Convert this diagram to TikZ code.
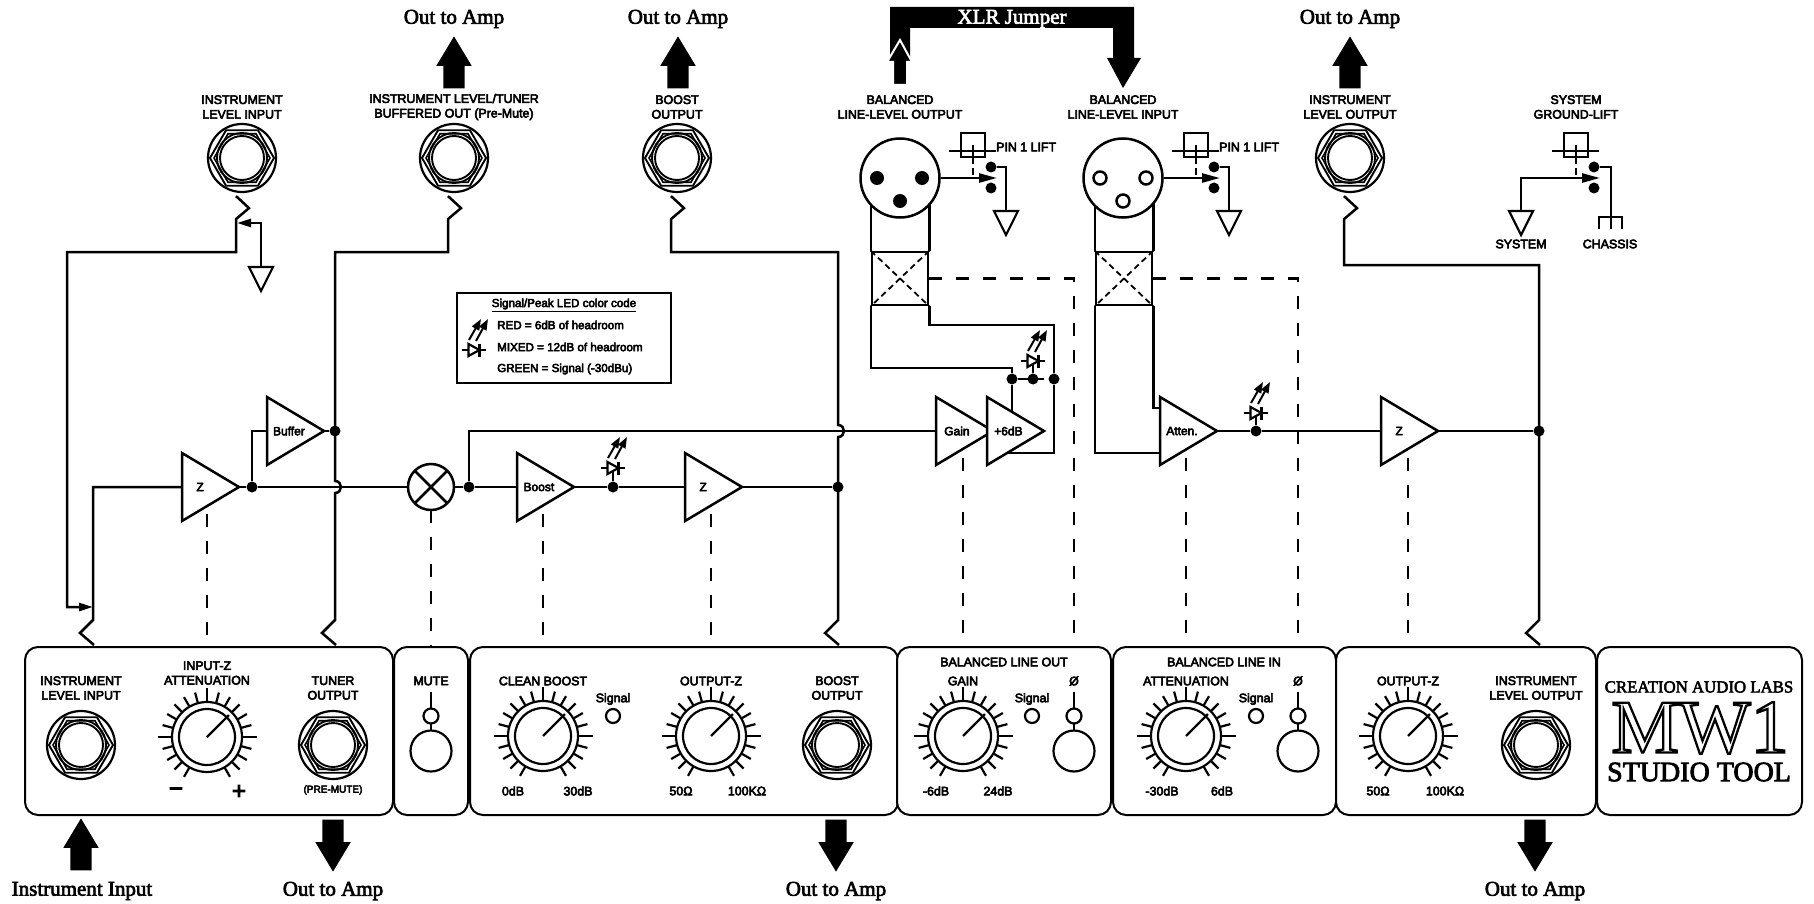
\documentclass[tikz,border=0pt]{standalone}
\usepackage{fontspec}
\usepackage{tikz}
\usetikzlibrary{arrows.meta, shapes.geometric, shapes.arrows, backgrounds, calc}
\setmainfont{Liberation Serif}
\newfontfamily\tagfont[FakeBold=4.5]{Liberation Sans}
\newfontfamily\bigfont[FakeBold=3]{Liberation Serif}
\newfontfamily\logofont[FakeBold=3]{Liberation Serif}
\newfontfamily\outlinefont[FakeBold=3]{Liberation Serif}
\tikzset{
    wire/.style={line width=2.5pt, line join=miter},
    control/.style={line width=2.5pt, dash pattern=on 13pt off 14pt},
    contact/.style={wire, -{Triangle[length=14pt, width=8pt]}},
    swingarm/.style={wire, -{Triangle[length=18pt, width=9pt]}},
    zigtop/.style={insert path={-- ++(13,12) -- ++(-13,11)}},
    zigbottom/.style={insert path={-- ++(-13,13) -- ++(14,12)}},
    jack/.pic={
        \draw[line width=1.9pt] (0:32) -- (60:32) -- (120:32) -- (180:32) -- (240:32) -- (300:32) -- cycle;
        \draw[line width=1.6pt] (0:28) -- (60:28) -- (120:28) -- (180:28) -- (240:28) -- (300:28) -- cycle;
        \draw[line width=1.9pt] (0,0) circle (25);
        \draw[line width=1.9pt] (0,0) circle (22);
    },
    knob/.pic={
        \foreach \a in {-240,-225,...,60} {
            \draw[line width=2.2pt] (\a:35) -- (\a:46);
        }
        \foreach \a in {-180,-90,0} {
            \draw[line width=2.2pt] (\a:35) -- (\a:49.5);
        }
        \draw[line width=2.2pt] (0,0) circle (28);
        \draw[line width=2.2pt] (0,0) -- (-45:31);
    },
    led/.pic={
        \draw[line width=2.2pt] (-12,0) -- (12,0);
        \draw[line width=2.2pt, fill=white] (-5.5,-6) -- (5.5,0) -- (-5.5,6) -- cycle;
        \draw[line width=2.2pt] (5.5,-6.5) -- (5.5,6.5);
        \draw[line width=2pt, -{Triangle[length=11pt, width=8pt]}] (-5,-10) -- (7,-31);
        \draw[line width=2pt, -{Triangle[length=11pt, width=8pt]}] (2,-9) -- (14,-31);
    },
    lift/.pic={
        \draw[line width=2.2pt] (-12,-12) rectangle (12,12);
        \draw[line width=2.2pt] (-24,6) -- (23,6);
        \draw[line width=2.2pt] (0,0) -- (0,12);
        \draw[line width=2.2pt, dash pattern=on 7pt off 4pt] (0,12) -- (0,33);
        \node[contactdot] (-up) at (18,22) {};
        \node[contactdot] (-down) at (18,43) {};
        \coordinate (-arm) at (24,33);
    },
    toggle/.pic={
        \draw[wire] (0,-24) -- (0,34);
        \node[switchbat] at (0,0) {};
        \node[switchbody] at (0,35) {};
    },
    contactdot/.style={circle, fill=black, inner sep=0pt, minimum size=11pt},
    switchbat/.style={circle, draw, fill=white, line width=2.2pt, inner sep=0pt, minimum size=15pt},
    switchbody/.style={circle, draw, fill=white, line width=2.2pt, inner sep=0pt, minimum size=41pt},
}

\begin{document}
\begin{tikzpicture}[
        x=1pt, y=-1pt,
        amp/.style={
            isosceles triangle, isosceles triangle stretches, draw, fill=white,
            line width=2.5pt, inner sep=0pt, outer sep=0pt, minimum height=57pt,
            minimum width=68pt, anchor=lower side, align=center,
            font=\tagfont\fontsize{12}{14}\selectfont
        },
        gnd/.style={
            isosceles triangle, isosceles triangle stretches, draw, fill=white,
            line width=2.2pt, inner sep=0pt, outer sep=0pt, minimum height=24pt,
            minimum width=24pt, anchor=lower side, shape border rotate=270
        },
        panel/.style={
            rectangle, rounded corners=13pt, draw, fill=white, line width=2pt,
            inner sep=0pt, outer sep=0pt, minimum height=168pt
        },
        jackring/.style={circle, draw, fill=white, line width=2.2pt, inner sep=0pt, minimum size=68pt},
        knobring/.style={circle, draw, fill=white, line width=2.2pt, inner sep=0pt, minimum size=70pt},
        xlrbody/.style={circle, draw, fill=white, line width=2.5pt, inner sep=0pt, minimum size=79pt},
        xlrbox/.style={rectangle, draw, line width=2.5pt, inner sep=0pt, minimum width=56pt, minimum height=53pt},
        junction/.style={circle, fill=black, inner sep=0pt, minimum size=11pt},
        pinfull/.style={circle, fill=black, inner sep=0pt, minimum size=14pt},
        pinopen/.style={circle, draw, fill=white, line width=2.5pt, inner sep=0pt, minimum size=13pt},
        indicator/.style={circle, draw, fill=white, line width=2.2pt, inner sep=0pt, minimum size=14pt},
        lamp/.style={circle, draw, fill=white, line width=2.5pt, inner sep=0pt, outer sep=0pt, minimum size=46pt},
        tag/.style={font=\tagfont\fontsize{12.4}{14.6}\selectfont, align=center, inner sep=0pt},
        smalltag/.style={font=\tagfont\fontsize{10}{12}\selectfont, align=center, inner sep=0pt},
        bigtag/.style={font=\bigfont\fontsize{21}{24}\selectfont, inner sep=0pt},
        upshaft/.style={
            single arrow, fill=black, inner sep=10.5pt, minimum height=52pt,
            single arrow head extend=7pt, single arrow tip angle=62, shape border rotate=90, anchor=tip
        },
        downshaft/.style={upshaft, shape border rotate=270},
    ]

    % Front panel
    \node[panel, minimum width=368pt] (panelInput) at (209,731) {};
    \node[panel, minimum width=74pt] (panelMute) at (431,731) {};
    \node[panel, minimum width=428pt] (panelBoost) at (684,731) {};
    \node[panel, minimum width=214pt] (panelLineOut) at (1004,731) {};
    \node[panel, minimum width=223pt] (panelLineIn) at (1224.5,731) {};
    \node[panel, minimum width=260pt] (panelOutput) at (1466,731) {};
    \node[panel, minimum width=205pt] (panelLogo) at (1699.5,731) {};

    % ---- Panel: input section ----
    \node[tag] (lblInJack) at (81,688) {INSTRUMENT\\LEVEL INPUT};
    \node[jackring] (jackInPanel) at (81,745) {};
    \pic at (jackInPanel) {jack};
    \node[tag] (lblInZ) at (207,673) {INPUT-Z\\ATTENUATION};
    \node[knobring] (knobInZ) at (207,737) {};
    \pic at (knobInZ) {knob};
    \node[font=\tagfont\fontsize{24}{24}\selectfont, inner sep=0pt] (lblMinus) at (176,792) {−};
    \node[font=\tagfont\fontsize{24}{24}\selectfont, inner sep=0pt] (lblPlus) at (239,792) {+};
    \node[tag] (lblTuner) at (333,688) {TUNER\\OUTPUT};
    \node[jackring] (jackTunerPanel) at (333,745) {};
    \pic at (jackTunerPanel) {jack};
    \node[smalltag] (lblPreMute) at (333,790) {(PRE-MUTE)};

    % ---- Panel: mute ----
    \node[tag] (lblMute) at (431,681) {MUTE};
    \pic at (431,716) {toggle};

    % ---- Panel: boost section ----
    \node[tag] (lblClean) at (543,681) {CLEAN BOOST};
    \node[knobring] (knobBoost) at (543,736) {};
    \pic at (knobBoost) {knob};
    \node[tag] (lblZeroDb) at (513,791) {0dB};
    \node[tag] (lblThirtyDb) at (578,791) {30dB};
    \node[tag] (lblSigBoost) at (613,699) {Signal};
    \node[indicator] (sigBoost) at (613,716) {};
    \node[tag] (lblOutZ) at (711,681) {OUTPUT-Z};
    \node[knobring] (knobOutZ) at (711,736) {};
    \pic at (knobOutZ) {knob};
    \node[tag] (lblFifty) at (681,791) {50Ω};
    \node[tag] (lblHundred) at (747,791) {100KΩ};
    \node[tag] (lblBoostOut) at (837,688) {BOOST\\OUTPUT};
    \node[jackring] (jackBoostPanel) at (837,745) {};
    \pic at (jackBoostPanel) {jack};

    % ---- Panel: balanced line out ----
    \node[tag] (lblLineOut) at (1004,662) {BALANCED LINE OUT};
    \node[tag] (lblGain) at (963,681) {GAIN};
    \node[knobring] (knobGain) at (963,736) {};
    \pic at (knobGain) {knob};
    \node[tag] (lblMinusSix) at (936,791) {-6dB};
    \node[tag] (lblTwentyFour) at (998,791) {24dB};
    \node[tag] (lblSigOut) at (1032,699) {Signal};
    \node[indicator] (sigLineOut) at (1032,716) {};
    \node[tag] (lblPhaseOut) at (1074,681) {Ø};
    \coordinate (phaseOut) at (1074,716);
    \pic at (phaseOut) {toggle};

    % ---- Panel: balanced line in ----
    \node[tag] (lblLineIn) at (1224,662) {BALANCED LINE IN};
    \node[tag] (lblAtten) at (1186,681) {ATTENUATION};
    \node[knobring] (knobAtten) at (1186,736) {};
    \pic at (knobAtten) {knob};
    \node[tag] (lblMinusThirty) at (1162,791) {-30dB};
    \node[tag] (lblSixDb) at (1222,791) {6dB};
    \node[tag] (lblSigIn) at (1256,699) {Signal};
    \node[indicator] (sigLineIn) at (1256,716) {};
    \node[tag] (lblPhaseIn) at (1298,681) {Ø};
    \coordinate (phaseIn) at (1298,716);
    \pic at (phaseIn) {toggle};

    % ---- Panel: output section ----
    \node[tag] (lblOutputZ) at (1408,681) {OUTPUT-Z};
    \node[knobring] (knobLineZ) at (1408,736) {};
    \pic at (knobLineZ) {knob};
    \node[tag] (lblFiftyB) at (1378,791) {50Ω};
    \node[tag] (lblHundredB) at (1445,791) {100KΩ};
    \node[tag] (lblInstOut) at (1536,688) {INSTRUMENT\\LEVEL OUTPUT};
    \node[jackring] (jackInstPanel) at (1536,745) {};
    \pic at (jackInstPanel) {jack};

    % ---- Panel: logo ----
    \node[font=\outlinefont\fontsize{16.8}{17}\selectfont, inner sep=0pt] (logoMaker) at (1699,687) {CREATION AUDIO LABS};
    \node[font=\logofont\fontsize{76}{76}\selectfont, inner sep=0pt] (logoModel) at (1700,728) {\special{pdf:code 1 g 0 G}MW1};
    \node[font=\outlinefont\fontsize{28}{28}\selectfont, inner sep=0pt] (logoTool) at (1699,772) {STUDIO TOOL};

    % ---- Top row: jacks ----
    \node[tag] (lblInTop) at (242,107) {INSTRUMENT\\LEVEL INPUT};
    \node[jackring] (jackIn) at (242,158) {};
    \pic at (jackIn) {jack};
    \node[tag] (lblTunerTop) at (454,107) {INSTRUMENT LEVEL/TUNER\\BUFFERED OUT (Pre-Mute)};
    \node[jackring] (jackTuner) at (454,158) {};
    \pic at (jackTuner) {jack};
    \node[tag] (lblBoostTop) at (677,107) {BOOST\\OUTPUT};
    \node[jackring] (jackBoost) at (677,158) {};
    \pic at (jackBoost) {jack};
    \node[tag] (lblInstTop) at (1350,107) {INSTRUMENT\\LEVEL OUTPUT};
    \node[jackring] (jackInst) at (1350,158) {};
    \pic at (jackInst) {jack};

    % ---- XLR connectors ----
    \node[tag] (lblXlrOut) at (900,107) {BALANCED\\LINE-LEVEL OUTPUT};
    \node[xlrbody] (xlrOut) at (900,178) {};
    \node[pinfull] (pinOutA) at (877,178) {};
    \node[pinfull] (pinOutB) at (922,178) {};
    \node[pinfull] (pinOutC) at (900,201) {};
    \node[tag] (lblXlrIn) at (1123,107) {BALANCED\\LINE-LEVEL INPUT};
    \node[xlrbody] (xlrIn) at (1123,178) {};
    \node[pinopen] (pinInA) at (1100,178) {};
    \node[pinopen] (pinInB) at (1146,178) {};
    \node[pinopen] (pinInC) at (1123,201) {};
    \node[xlrbox] (xfmrOut) at (900,278.5) {};
    \node[xlrbox] (xfmrIn) at (1124,278.5) {};

    % ---- Ground lift switches ----
    \pic (liftOut) at (973,145) {lift};
    \pic (liftIn) at (1196,145) {lift};
    \pic (liftSys) at (1576,145) {lift};
    \node[tag, anchor=west] (lblLiftOut) at (996,147) {PIN 1 LIFT};
    \node[tag, anchor=west] (lblLiftIn) at (1219,147) {PIN 1 LIFT};
    \node[tag] (lblSysLift) at (1576,107) {SYSTEM\\GROUND-LIFT};
    \node[gnd] (gndOut) at (1006,211) {};
    \node[gnd] (gndIn) at (1229,211) {};
    \node[gnd] (gndSys) at (1521,211) {};
    \node[gnd] (gndJack) at (261,267) {};
    \node[tag] (lblSystem) at (1521,244) {SYSTEM};
    \node[tag] (lblChassis) at (1610,244) {CHASSIS};
    \coordinate (chassis) at (1611,217);

    % ---- Amplifiers ----
    \node[amp] (ampInZ) at (182,487) {Z};
    \node[amp] (ampBuffer) at (267,431) {Buffer};
    \node[amp] (ampBoost) at (517,487) {Boost};
    \node[amp] (ampOutZ) at (685,487) {Z};
    \node[amp] (ampGain) at (936,431) {Gain};
    \node[amp] (ampSix) at (987,431) {+6dB};
    \node[amp] (ampAtten) at (1160,431) {Atten.};
    \node[amp] (ampLineZ) at (1381,431) {Z};
    \node[lamp] (muteLamp) at (431,487) {};

    % ---- Junctions ----
    \node[junction] (jctInZ) at (252,487) {};
    \node[junction] (jctTuner) at (335,431) {};
    \node[junction] (jctMute) at (469,487) {};
    \node[junction] (jctBoost) at (613,487) {};
    \node[junction] (jctOutZ) at (838,487) {};
    \node[junction] (jctHot) at (1012,379) {};
    \node[junction] (jctPeak) at (1033,379) {};
    \node[junction] (jctCold) at (1054,379) {};
    \node[junction] (jctAtten) at (1256,431) {};
    \node[junction] (jctLine) at (1539,431) {};

    % ---- LEDs ----
    \coordinate (ledBoost) at (613,468);
    \coordinate (ledPeak) at (1033,361);
    \coordinate (ledAtten) at (1256,413);
    \pic at (ledBoost) {led};
    \pic at (ledPeak) {led};
    \pic at (ledAtten) {led};

    % ---- Legend ----
    \node[draw, line width=2.5pt, minimum width=214pt, minimum height=90pt, inner sep=0pt] (legendBox) at (564,338) {};
    \node[tag, font=\tagfont\fontsize{11.6}{14}\selectfont] (legendTitle) at (564,305) {\underline{Signal/Peak LED color code}};
    \node[tag, font=\tagfont\fontsize{11.6}{14}\selectfont, anchor=west] (legendRed) at (497,325) {RED = 6dB of headroom};
    \node[tag, font=\tagfont\fontsize{11.6}{14}\selectfont, anchor=west] (legendMixed) at (497,347) {MIXED = 12dB of headroom};
    \node[tag, font=\tagfont\fontsize{11.6}{14}\selectfont, anchor=west] (legendGreen) at (497,369) {GREEN = Signal (-30dBu)};
    \pic at (474,350) {led};

    % ---- Big arrows and their labels ----
    \node[bigtag] (ampTopA) at (454,19) {Out to Amp};
    \node[upshaft] (arrTopA) at (454,36) {};
    \node[bigtag] (ampTopB) at (678,19) {Out to Amp};
    \node[upshaft] (arrTopB) at (678,36) {};
    \node[bigtag] (ampTopC) at (1350,19) {Out to Amp};
    \node[upshaft] (arrTopC) at (1350,36) {};
    \node[bigtag] (lblInstIn) at (82,891) {Instrument Input};
    \node[upshaft] (arrInput) at (81,818) {};
    \node[bigtag] (ampBotA) at (333,891) {Out to Amp};
    \node[downshaft] (arrBotA) at (333,872) {};
    \node[bigtag] (ampBotB) at (836,891) {Out to Amp};
    \node[downshaft] (arrBotB) at (836,872) {};
    \node[bigtag] (ampBotC) at (1535,891) {Out to Amp};
    \node[downshaft] (arrBotC) at (1535,872) {};

    % XLR jumper
    \fill (890,7) -- (1134,7) -- (1134,58) -- (1141,58) -- (1123,88) -- (1107,58) -- (1113,58)
        -- (1113,28) -- (910,28) -- (910,56) -- (890,56) -- cycle;
    \draw[white, line width=2pt, fill=black] (887,62) -- (900,40) -- (912,62) -- (907,62) -- (907,85)
        -- (893,85) -- (893,62) -- cycle;
    \node[bigtag, text=white] (lblJumper) at (1012,19) {XLR Jumper};

    % ---- Wires, all behind the symbols ----
    \begin{scope}[on background layer]
        \coordinate (wireIn) at (93,620);
        \coordinate (wireTuner) at (335,620);
        \coordinate (wireBoost) at (838,620);
        \coordinate (wireInst) at (1539,620);
        \coordinate (loopIn) at (67,252);
        \coordinate (loopTip) at (93,607);
        \coordinate (contactIn) at (237,223);
        \coordinate (tunerBend) at (335,252);
        \coordinate (boostBend) at (838,252);
        \coordinate (instBend) at (1539,265);

        % instrument input
        \draw[wire] (ampInZ.lower side) -| (wireIn) [zigbottom];
        \draw[contact] ([shift={(-6,3)}]jackIn.south) [zigtop] |- (loopIn) -- (loopIn |- loopTip) -- (loopTip);
        \draw[contact] (gndJack.lower side) |- (contactIn);

        % tuner and boost outputs
        \draw[wire] ([shift={(-6,3)}]jackTuner.south) [zigtop] |- (tunerBend) -- ++(0,229)
            to[out=0, in=0, looseness=1.7] ++(0,12) -- (wireTuner) [zigbottom];
        \draw[wire] ([shift={(-6,3)}]jackBoost.south) [zigtop] |- (boostBend) -- ++(0,173)
            to[out=0, in=0, looseness=1.7] ++(0,12) -- (wireBoost) [zigbottom];
        \draw[wire] ([shift={(-6,3)}]jackInst.south) [zigtop] |- (instBend) -- (wireInst) [zigbottom];

        % signal path
        \draw[wire] (ampInZ.apex) -- (jctInZ) -- (muteLamp.west);
        \draw[wire] (jctInZ) |- (ampBuffer.lower side);
        \draw[wire] (ampBuffer.apex) -- (jctTuner);
        \draw[wire] (muteLamp.east) -- (jctMute) -- (ampBoost.lower side);
        \draw[wire] (jctMute) |- (ampGain.lower side);
        \draw[wire] (ampBoost.apex) -- (jctBoost) -- (ampOutZ.lower side);
        \draw[wire] (ampOutZ.apex) -- (jctOutZ);
        \draw[wire] (ampAtten.apex) -- (jctAtten) -- (ampLineZ.lower side);
        \draw[wire] (ampLineZ.apex) -- (jctLine);
        \draw[wire] (jctBoost) -- (ledBoost);
        \draw[wire] (jctPeak) -- (ledPeak);
        \draw[wire] (jctAtten) -- (ledAtten);

        % transformers
        \draw[wire] (xfmrOut.north west) -- (xfmrOut.north west |- xlrOut);
        \draw[wire] (xfmrOut.north east) -- (xfmrOut.north east |- xlrOut);
        \draw[wire] (xfmrIn.north west) -- (xfmrIn.north west |- xlrIn);
        \draw[wire] (xfmrIn.north east) -- (xfmrIn.north east |- xlrIn);
        \draw[line width=1.8pt, dash pattern=on 6pt off 4pt] (xfmrOut.north west) -- (xfmrOut.south east);
        \draw[line width=1.8pt, dash pattern=on 6pt off 4pt] (xfmrOut.north east) -- (xfmrOut.south west);
        \draw[line width=1.8pt, dash pattern=on 6pt off 4pt] (xfmrIn.north west) -- (xfmrIn.south east);
        \draw[line width=1.8pt, dash pattern=on 6pt off 4pt] (xfmrIn.north east) -- (xfmrIn.south west);

        % balanced out
        \coordinate (bendHot) at (1012,368);
        \coordinate (bendCold) at (1054,325);
        \coordinate (returnCold) at (1054,453);
        \draw[wire] (xfmrOut.south west) |- (bendHot) -- (jctHot) -- (jctHot |- ampSix);
        \draw[wire] (xfmrOut.south east) |- (bendCold) -- (jctCold) -- (returnCold) -- (ampSix |- returnCold);
        \draw[wire, dash pattern=on 10pt off 6pt] (jctHot) -- (jctCold);

        % balanced in
        \coordinate (attenLow) at (1165,453);
        \coordinate (attenHigh) at (1165,408);
        \draw[wire] (xfmrIn.south west) |- (attenLow);
        \draw[wire] (xfmrIn.south east) |- (attenHigh);

        % ground lifts
        \draw[swingarm] (xlrOut.east) -- (liftOut-arm);
        \draw[swingarm] (xlrIn.east) -- (liftIn-arm);
        \draw[wire] (liftOut-up) -| (gndOut.lower side);
        \draw[wire] (liftIn-up) -| (gndIn.lower side);
        \draw[swingarm] (gndSys.lower side) |- (liftSys-arm);
        \draw[wire] (liftSys-up) -| (chassis);
        \draw[wire] (chassis) ++(-12,12) -- ++(0,-12) -- ++(23,0) -- ++(0,12);
        \draw[wire] (chassis) -- ++(0,12);

        % pot and switch controls
        \draw[control] (knobInZ |- ampInZ) -- (knobInZ |- panelInput.north);
        \draw[control] (muteLamp.south) -- (muteLamp |- panelMute.north);
        \draw[control] (knobBoost |- ampBoost) -- (knobBoost |- panelBoost.north);
        \draw[control] (knobOutZ |- ampOutZ) -- (knobOutZ |- panelBoost.north);
        \draw[control] (knobGain |- ampGain) -- (knobGain |- panelLineOut.north);
        \draw[control] (knobAtten |- ampAtten) -- (knobAtten |- panelLineIn.north);
        \draw[control] (knobLineZ |- ampLineZ) -- (knobLineZ |- panelOutput.north);
        \draw[control] (xfmrOut.east) -| (phaseOut |- panelLineOut.north);
        \draw[control] (xfmrIn.east) -| (phaseIn |- panelLineIn.north);
    \end{scope}

    % mute lamp cross
    \draw[wire] (muteLamp.45) -- (muteLamp.225);
    \draw[wire] (muteLamp.135) -- (muteLamp.315);

    \useasboundingbox (0,0) rectangle (1814,904);
\end{tikzpicture}
\end{document}
